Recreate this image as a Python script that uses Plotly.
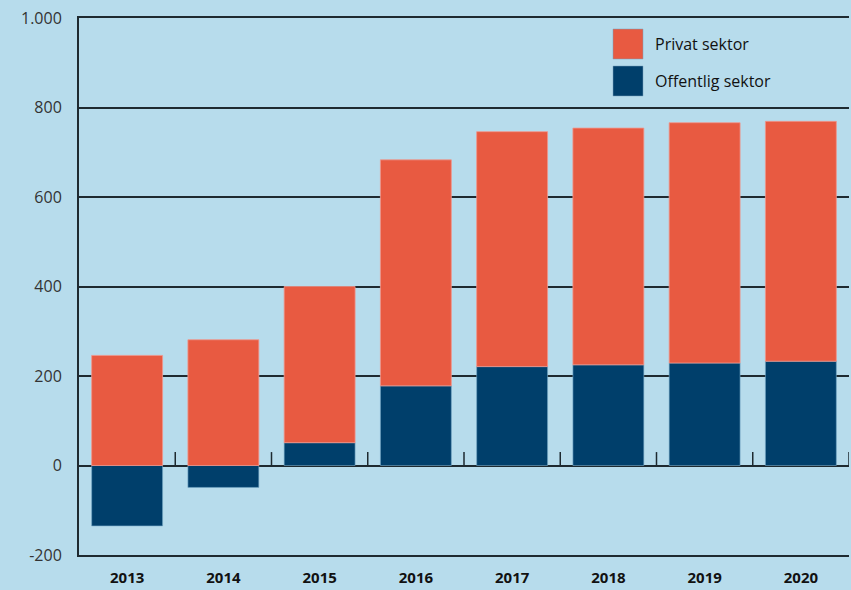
import plotly.graph_objects as go

years = ["2013", "2014", "2015", "2016", "2017", "2018", "2019", "2020"]
offentlig = [-135, -49, 51, 178, 221, 225, 229, 233]
privat = [246, 281, 349, 505, 525, 529, 537, 536]
series_names = ["Privat sektor", "Offentlig sektor"]
y_tickvals = [-200, 0, 200, 400, 600, 800, 1000]
y_ticktext = ["-200", "0", "200", "400", "600", "800", "1.000"]

RED = "#e85a41"
BLUE = "#003f6b"
BG = "#b7dcec"
LINE = "#1e2a30"

fig = go.Figure()
fig.add_trace(go.Bar(x=years, y=offentlig, name=series_names[1], marker_color=BLUE,
                     marker_line=dict(width=1, color="rgba(120,170,200,0.6)"), width=0.737,
                     showlegend=False))
fig.add_trace(go.Bar(x=years, y=privat, name=series_names[0], marker_color=RED,
                     marker_line=dict(width=1, color="rgba(240,150,140,0.8)"), width=0.737,
                     showlegend=False))

# small ticks on the zero line between categories
for i in range(len(years)):
    fig.add_shape(type="line", xref="x", yref="y", x0=i + 0.5, x1=i + 0.5, y0=0, y1=30,
                  line=dict(color=LINE, width=1.5), layer="below")

# manual legend (top right)
legend_items = [(series_names[0], RED), (series_names[1], BLUE)]
for k, (name, col) in enumerate(legend_items):
    y_top = 1 - (29 - 18) / 537 - k * (37 / 537)
    y_bot = y_top - 30 / 537
    x0 = (613 - 79) / 770
    x1 = (643 - 79) / 770
    fig.add_shape(type="rect", xref="paper", yref="paper", x0=x0, x1=x1, y0=y_bot, y1=y_top,
                  fillcolor=col, line=dict(color="rgba(120,160,190,0.5)", width=1))
    fig.add_annotation(xref="paper", yref="paper", x=(653 - 79) / 770, y=(y_top + y_bot) / 2,
                       text=name, showarrow=False, xanchor="left", yanchor="middle",
                       font=dict(family="Open Sans, DejaVu Sans, sans-serif", size=16, color="#111"))

fig.update_layout(
    barmode="relative",
    width=851, height=590,
    margin=dict(l=79, r=2, t=18, b=35),
    paper_bgcolor=BG, plot_bgcolor=BG,
    font=dict(family="Open Sans, DejaVu Sans, sans-serif", color="#222"),
    bargap=0.263,
)
fig.update_xaxes(
    type="category", range=[-0.5, 7.5],
    showline=True, mirror=True, linecolor=LINE, linewidth=2,
    showgrid=False, ticks="",
    tickfont=dict(family="Open Sans, DejaVu Sans, sans-serif", size=15, color="#111", weight="bold"),
    ticklabelstandoff=8,
)
fig.update_yaxes(
    range=[-200, 1000], tickvals=y_tickvals, ticktext=y_ticktext,
    showline=True, linecolor=LINE, linewidth=2,
    showgrid=True, gridcolor=LINE, gridwidth=1.5,
    zeroline=True, zerolinecolor=LINE, zerolinewidth=1.5,
    ticks="", ticklabelstandoff=12,
    tickfont=dict(family="Open Sans, DejaVu Sans, sans-serif", size=16, color="#333"),
)

fig.write_html("out.html", config={"displayModeBar": False},
               post_script="document.body.style.margin='0';document.body.style.overflow='hidden';")
